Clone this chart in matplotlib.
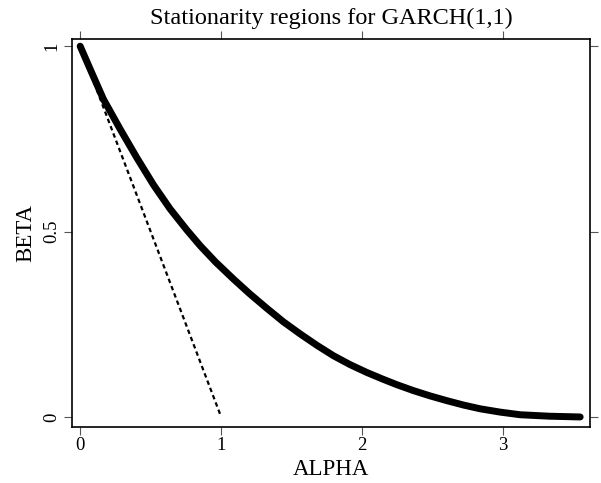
import numpy as np
import matplotlib
matplotlib.use('Agg')
import matplotlib.pyplot as plt

# boundary of the strict stationarity region
alpha_curve = [0.0, 0.071, 0.165, 0.284, 0.402, 0.52, 0.638, 0.757, 0.851, 0.96,
               1.087, 1.2, 1.324, 1.44, 1.56, 1.68, 1.797, 1.915, 2.033, 2.14,
               2.246, 2.364, 2.48, 2.60, 2.72, 2.837, 2.98, 3.12, 3.33, 3.546]
beta_curve = [1.0, 0.938, 0.857, 0.776, 0.699, 0.626, 0.561, 0.504, 0.462, 0.418,
              0.372, 0.333, 0.293, 0.257, 0.224, 0.193, 0.165, 0.141, 0.120, 0.103,
              0.087, 0.071, 0.057, 0.044, 0.032, 0.022, 0.013, 0.006, 0.002, 0.0]

# covariance stationarity: alpha + beta = 1
alpha_line = [0.0, 1.0]
beta_line = [1.0, 0.0]

xticks = [0, 1, 2, 3]
yticks = [0, 0.5, 1]
ytick_labels = ['0', '0.5', '1']

plt.rcParams['font.family'] = ['Liberation Serif', 'DejaVu Serif']

fig = plt.figure(figsize=(6.01, 4.83), dpi=100)
ax = fig.add_axes([0.12, 0.116, 0.862, 0.803])

ax.plot(alpha_line, beta_line, color='black', lw=1.6, linestyle=(0, (2, 1.5)))
ax.plot(alpha_curve, beta_curve, color='black', lw=5, solid_capstyle='round',
        solid_joinstyle='round')

ax.set_xlim(-0.057, 3.617)
ax.set_ylim(-0.027, 1.019)

ax.set_xticks(xticks)
ax.set_xticklabels([str(t) for t in xticks], fontsize=13.5)
ax.set_yticks(yticks)
ax.set_yticklabels(ytick_labels, fontsize=13.5, rotation=90, va='center')

ax.tick_params(direction='out', length=6, width=0.8, top=True, right=True,
               labeltop=False, labelright=False, color='#555555')
ax.tick_params(axis='x', pad=1.5)
ax.tick_params(axis='y', pad=2.5)

for sp in ax.spines.values():
    sp.set_linewidth(1.2)

ax.set_xlabel('ALPHA', fontsize=16.5, labelpad=3)
ax.set_ylabel('BETA', fontsize=16.5, labelpad=5)
ax.set_title('Stationarity regions for GARCH(1,1)', fontsize=17.5, pad=11)

fig.savefig('out.png', dpi=100)
